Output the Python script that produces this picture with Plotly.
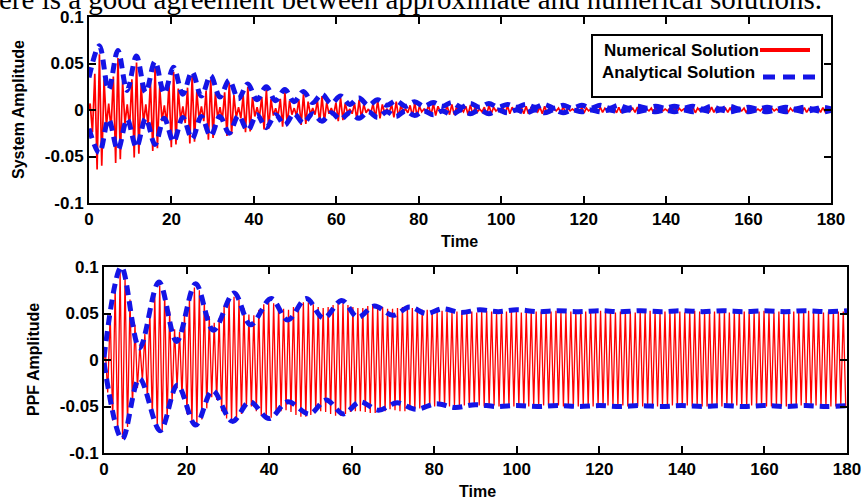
import numpy as np
import plotly.graph_objects as go

W, H = 862, 502

# ---------------- data ----------------
# Top panel, numerical solution: successive oscillation peaks (alternating sign)
top_num_t0 = 0.28          # time of first peak
top_num_dt = 0.5625        # time between successive peaks
top_numerical = [
    0.007, -0.024, 0.039, -0.064, 0.060, -0.060, 0.033, -0.017,
    0.007, -0.021, 0.036, -0.057, 0.056, -0.053, 0.031, -0.015,
    0.006, -0.019, 0.033, -0.051, 0.051, -0.047, 0.028, -0.014,
    0.006, -0.017, 0.030, -0.044, 0.046, -0.041, 0.025, -0.012,
    0.005, -0.015, 0.027, -0.040, 0.041, -0.037, 0.023, -0.011,
    0.004, -0.014, 0.024, -0.036, 0.037, -0.034, 0.020, -0.010,
    0.004, -0.012, 0.021, -0.032, 0.033, -0.030, 0.018, -0.009,
    0.003, -0.011, 0.019, -0.028, 0.029, -0.026, 0.016, -0.008,
    0.003, -0.009, 0.016, -0.024, 0.025, -0.023, 0.014, -0.007,
    0.003, -0.008, 0.014, -0.021, 0.022, -0.020, 0.012, -0.006,
    0.002, -0.007, 0.012, -0.018, 0.019, -0.017, 0.010, -0.005,
    0.002, -0.006, 0.011, -0.016, 0.017, -0.015, 0.009, -0.005,
    0.002, -0.005, 0.010, -0.014, 0.015, -0.013, 0.008, -0.004,
    0.002, -0.005, 0.008, -0.012, 0.013, -0.011, 0.007, -0.003,
    0.001, -0.004, 0.007, -0.010, 0.011, -0.009, 0.006, -0.003,
    0.001, -0.004, 0.007, -0.009, 0.010, -0.009, 0.006, -0.003,
    0.001, -0.003, 0.006, -0.008, 0.009, -0.008, 0.005, -0.002,
    0.001, -0.003, 0.005, -0.007, 0.008, -0.007, 0.004, -0.002,
    0.001, -0.002, 0.005, -0.006, 0.007, -0.006, 0.004, -0.002,
    0.001, -0.002, 0.004, -0.005, 0.006, -0.005, 0.003, -0.002,
    0.001, -0.002, 0.004, -0.005, 0.0055, -0.005, 0.003, -0.002,
    0.001, -0.002, 0.003, -0.005, 0.005, -0.004, 0.003, -0.001,
    0.001, -0.002, 0.003, -0.004, 0.0045, -0.004, 0.003, -0.001,
    0.001, -0.002, 0.003, -0.004, 0.004, -0.004, 0.002, -0.001,
    0.001, -0.002, 0.003, -0.004, 0.004, -0.003, 0.002, -0.001,
    0.001, -0.001, 0.002, -0.003, 0.0035, -0.003, 0.002, -0.001,
    0.001, -0.001, 0.002, -0.003, 0.003, -0.003, 0.002, -0.001,
    0.001, -0.001, 0.0025, -0.003, 0.003, -0.0025, 0.002, -0.001,
    0.001, -0.001, 0.002, -0.003, 0.003, -0.003, 0.002, -0.001,
    0.001, -0.001, 0.002, -0.0025, 0.003, -0.0025, 0.002, -0.001,
    0.001, -0.001, 0.002, -0.003, 0.003, -0.003, 0.0015, -0.001,
    0.001, -0.001, 0.002, -0.0025, 0.0025, -0.0025, 0.002, -0.001,
    0.001, -0.001, 0.002, -0.003, 0.003, -0.003, 0.002, -0.001,
    0.001, -0.001, 0.002, -0.0025, 0.003, -0.0025, 0.002, -0.001,
    0.001, -0.001, 0.002, -0.0025, 0.0025, -0.0025, 0.0015, -0.001,
    0.001, -0.001, 0.002, -0.003, 0.003, -0.003, 0.002, -0.001,
    0.001, -0.001, 0.002, -0.0025, 0.0025, -0.0025, 0.002, -0.001,
    0.001, -0.001, 0.002, -0.0025, 0.003, -0.0025, 0.002, -0.001,
    0.001, -0.001, 0.002, -0.0025, 0.0025, -0.0025, 0.0015, -0.001,
    0.001, -0.001, 0.002, -0.0025, 0.0025, -0.002, 0.0015, -0.001,
]

# Top panel, analytical solution: upper / lower envelope at peaks and troughs
top_env_t = [0.0, 2.5, 4.75, 7.0, 9.25, 11.5, 13.75, 16.0, 18.25, 20.5, 22.75,
             25.0, 27.25, 29.5, 31.75, 34.0, 36.25, 38.5, 40.75, 43.0, 45.25,
             47.5, 49.75, 52.0, 54.25, 56.5, 58.75, 61.0, 63.25, 65.5, 67.75,
             70.0, 72.25, 74.5, 76.75, 79.0, 81.25, 83.5, 85.75, 88.0, 90.25,
             92.5, 94.75, 97.0, 99.25, 101.5, 103.75, 106.0, 108.25, 110.5, 112.75,
             115.0, 117.25, 119.5, 121.75, 124.0, 126.25, 128.5, 130.75, 133.0, 135.25,
             137.5, 139.75, 142.0, 144.25, 146.5, 148.75, 151.0, 153.25, 155.5, 157.75,
             160.0, 162.25, 164.5, 166.75, 169.0, 171.25, 173.5, 175.75, 178.0, 180.25]
top_env_upper = [0.035, 0.069, 0.022, 0.064, 0.021, 0.058, 0.019, 0.052, 0.018, 0.046, 0.017,
                 0.041, 0.015, 0.037, 0.014, 0.032, 0.012, 0.028, 0.011, 0.025, 0.010,
                 0.022, 0.009, 0.020, 0.008, 0.017, 0.007, 0.015, 0.006, 0.013, 0.005,
                 0.011, 0.005, 0.010, 0.004, 0.009, 0.004, 0.008, 0.004, 0.008, 0.003,
                 0.007, 0.003, 0.007, 0.003, 0.006, 0.003, 0.006, 0.003, 0.006, 0.002,
                 0.005, 0.002, 0.005, 0.002, 0.005, 0.002, 0.005, 0.002, 0.004, 0.002,
                 0.004, 0.002, 0.004, 0.002, 0.004, 0.001, 0.004, 0.001, 0.004, 0.001,
                 0.003, 0.001, 0.003, 0.001, 0.003, 0.001, 0.003, 0.001, 0.003, 0.001]
top_env_lower = [-0.020, -0.046, -0.010, -0.043, -0.010, -0.040, -0.009, -0.037, -0.009, -0.034, -0.008,
                 -0.031, -0.007, -0.028, -0.007, -0.025, -0.006, -0.022, -0.005, -0.019, -0.005,
                 -0.016, -0.004, -0.014, -0.004, -0.012, -0.003, -0.010, -0.003, -0.009, -0.002,
                 -0.008, -0.002, -0.007, -0.001, -0.006, -0.001, -0.005, -0.001, -0.005, 0.000,
                 -0.004, 0.000, -0.004, 0.000, -0.003, 0.000, -0.003, 0.000, -0.003, 0.000,
                 -0.003, 0.000, -0.002, 0.000, -0.002, 0.000, -0.002, 0.000, -0.002, 0.000,
                 -0.002, 0.000, -0.002, 0.000, -0.002, 0.000, -0.002, 0.000, -0.002, 0.000,
                 -0.002, 0.000, -0.002, 0.000, -0.002, 0.000, -0.002, 0.000, -0.002, 0.000]

# Bottom panel, numerical solution: positive and negative peaks
bot_num_t0 = 0.3
bot_num_dt = 0.6
bot_pos_peaks = [
    0.012, 0.050, 0.078, 0.095, 0.088, 0.065, 0.038, 0.016, 0.028, 0.052,
    0.070, 0.080, 0.072, 0.052, 0.033, 0.030, 0.050, 0.066, 0.078, 0.075,
    0.064, 0.047, 0.040, 0.045, 0.058, 0.066, 0.068, 0.065, 0.056, 0.049,
    0.048, 0.054, 0.060, 0.062, 0.061, 0.058, 0.055, 0.054, 0.057, 0.060,
    0.062, 0.062, 0.060, 0.057, 0.056, 0.057, 0.059, 0.061, 0.061, 0.059,
    0.057, 0.056, 0.056, 0.058, 0.059, 0.058, 0.057, 0.055, 0.055, 0.056,
    0.057, 0.057, 0.056, 0.055, 0.054, 0.054, 0.053,
    0.052, 0.053, 0.052, 0.051, 0.052, 0.053, 0.052, 0.052, 0.051, 0.052,
    0.053, 0.052, 0.051, 0.052, 0.052, 0.053, 0.052, 0.051, 0.052, 0.053,
    0.052, 0.052, 0.051, 0.052, 0.053, 0.052, 0.051, 0.052, 0.052, 0.053,
    0.052, 0.051, 0.052, 0.053, 0.052, 0.052, 0.051, 0.052, 0.053, 0.052,
    0.051, 0.052, 0.052, 0.053, 0.052, 0.051, 0.052, 0.053, 0.052, 0.052,
    0.051, 0.052, 0.053, 0.052, 0.051, 0.052, 0.052, 0.053, 0.052, 0.051,
    0.052, 0.053, 0.052, 0.052, 0.051, 0.052, 0.053, 0.052, 0.051, 0.052,
    0.052, 0.053, 0.052, 0.051, 0.052, 0.053, 0.052, 0.052, 0.051, 0.052,
    0.053, 0.052, 0.052,
]
bot_neg_peaks = [
    -0.035, -0.065, -0.080, -0.085, -0.072, -0.050, -0.030, -0.022, -0.042, -0.062,
    -0.073, -0.076, -0.065, -0.045, -0.030, -0.040, -0.058, -0.068, -0.070, -0.064,
    -0.052, -0.040, -0.043, -0.055, -0.063, -0.066, -0.064, -0.058, -0.050, -0.050,
    -0.055, -0.060, -0.062, -0.062, -0.058, -0.055, -0.054, -0.056, -0.059, -0.061,
    -0.061, -0.059, -0.056, -0.055, -0.056, -0.058, -0.060, -0.060, -0.058, -0.056,
    -0.055, -0.055, -0.056, -0.057, -0.057, -0.056, -0.055, -0.053, -0.054, -0.055,
    -0.055, -0.054, -0.053, -0.052, -0.051, -0.051, -0.050,
    -0.049, -0.050, -0.050, -0.049, -0.050, -0.049, -0.050, -0.050, -0.049, -0.050,
    -0.050, -0.049, -0.050, -0.049, -0.050, -0.050, -0.049, -0.050, -0.050, -0.049,
    -0.050, -0.049, -0.050, -0.050, -0.049, -0.050, -0.049, -0.050, -0.050, -0.049,
    -0.050, -0.050, -0.049, -0.050, -0.049, -0.050, -0.050, -0.049, -0.050, -0.049,
    -0.050, -0.050, -0.049, -0.050, -0.050, -0.049, -0.050, -0.049, -0.050, -0.050,
    -0.049, -0.050, -0.049, -0.050, -0.050, -0.049, -0.050, -0.050, -0.049, -0.050,
    -0.049, -0.050, -0.050, -0.049, -0.050, -0.049, -0.050, -0.050, -0.049, -0.050,
    -0.050, -0.049, -0.050, -0.049, -0.050, -0.050, -0.049, -0.050, -0.049, -0.050,
    -0.050, -0.049, -0.050,
]

# Bottom panel, analytical solution envelopes
bot_upper_t = [0, 4.2, 8.6, 13.3, 17.6, 22.2, 26.5, 31.5, 35.5, 40.5, 44.5, 49.0, 53.2,
               57.6, 61.5, 65.5, 70.0, 74.0, 78.0, 82.0, 86.5, 91.0, 95.5, 100, 105,
               110, 115, 120, 125, 130, 135, 140, 145, 150, 155, 160, 165, 170, 175, 180]
bot_upper = [0.003, 0.100, 0.013, 0.084, 0.020, 0.082, 0.032, 0.072, 0.038, 0.066, 0.043,
             0.066, 0.045, 0.064, 0.046, 0.058, 0.048, 0.057, 0.050, 0.055, 0.051, 0.054,
             0.052, 0.054, 0.052, 0.053, 0.052, 0.053, 0.052, 0.053, 0.052, 0.053, 0.052,
             0.053, 0.052, 0.053, 0.052, 0.053, 0.052, 0.053]
bot_lower_t = [0, 4.4, 8.6, 13.6, 17.8, 22.2, 26.3, 31.1, 35.3, 40.0, 44.5, 49.8, 53.8,
               58.0, 62.0, 66.5, 71.0, 75.5, 80.5, 85.0, 90.0, 95.0, 100, 105, 110, 115,
               120, 125, 130, 135, 140, 145, 150, 155, 160, 165, 170, 175, 180]
bot_lower = [-0.003, -0.085, -0.020, -0.076, -0.027, -0.070, -0.033, -0.066, -0.045, -0.063,
             -0.045, -0.058, -0.043, -0.058, -0.045, -0.054, -0.046, -0.053, -0.047, -0.051,
             -0.048, -0.050, -0.049, -0.050, -0.049, -0.050, -0.049, -0.050, -0.049, -0.050,
             -0.049, -0.050, -0.049, -0.050, -0.049, -0.050, -0.049, -0.050, -0.049]

x_ticks = [0, 20, 40, 60, 80, 100, 120, 140, 160, 180]
y_ticks = [-0.1, -0.05, 0, 0.05, 0.1]
y_tick_text = ["-0.1", "-0.05", "0", "0.05", "0.1"]

caption = "ere is a good agreement between approximate and numerical solutions."
legend_labels = ["Numerical Solution", "Analytical Solution"]

# ---------------- build series ----------------
top_t = [0.0] + list(np.round(top_num_t0 + top_num_dt * np.arange(len(top_numerical)), 4))
top_y = [0.0] + top_numerical

bot_vals = [0.0]
for p, n in zip(bot_pos_peaks, bot_neg_peaks):
    bot_vals += [p, n]
bot_t = [0.0] + list(np.round(bot_num_t0 + bot_num_dt * np.arange(len(bot_vals) - 1), 4))

RED = "#ff0000"
BLUE = "#1414e6"
DASH = "10px,6px"

fig = go.Figure()
fig.add_trace(go.Scatter(x=top_t, y=top_y, mode="lines", line=dict(color=RED, width=1.7),
                         xaxis="x", yaxis="y", showlegend=False))
for ys in (top_env_upper, top_env_lower):
    fig.add_trace(go.Scatter(x=top_env_t, y=ys, mode="lines", line_shape="spline",
                             line=dict(color=BLUE, width=5, dash=DASH),
                             xaxis="x", yaxis="y", showlegend=False))
fig.add_trace(go.Scatter(x=bot_t, y=bot_vals, mode="lines", line=dict(color=RED, width=1.3),
                         xaxis="x2", yaxis="y2", showlegend=False))
fig.add_trace(go.Scatter(x=bot_upper_t, y=bot_upper, mode="lines", line_shape="spline",
                         line=dict(color=BLUE, width=5, dash=DASH),
                         xaxis="x2", yaxis="y2", showlegend=False))
fig.add_trace(go.Scatter(x=bot_lower_t, y=bot_lower, mode="lines", line_shape="spline",
                         line=dict(color=BLUE, width=5, dash=DASH),
                         xaxis="x2", yaxis="y2", showlegend=False))

FONT = "Liberation Sans, Arial, sans-serif"
tickfont = dict(family=FONT, size=17, color="black", weight="bold")
common = dict(showline=True, linecolor="black", linewidth=2, mirror="ticks",
              ticks="inside", ticklen=7, tickwidth=1.5, tickcolor="black",
              showgrid=False, zeroline=False, tickfont=tickfont, automargin=False)

def fx(p):
    return p / W

def fy(p):
    return 1 - p / H

fig.update_layout(
    width=W, height=H, autosize=False,
    margin=dict(l=0, r=0, t=0, b=0),
    paper_bgcolor="white", plot_bgcolor="white",
    xaxis=dict(domain=[fx(89), fx(831)], anchor="y", range=[0, 180],
               tickvals=x_ticks, **common),
    yaxis=dict(domain=[fy(203), fy(17)], anchor="x", range=[-0.1, 0.1],
               tickvals=y_ticks, ticktext=y_tick_text, **common),
    xaxis2=dict(domain=[fx(104), fx(847)], anchor="y2", range=[0, 180],
                tickvals=x_ticks, **common),
    yaxis2=dict(domain=[fy(453), fy(267)], anchor="x2", range=[-0.1, 0.1],
                tickvals=y_ticks, ticktext=y_tick_text, **common),
)

titlefont = dict(family=FONT, size=16, color="black", weight="bold")
legfont = dict(family=FONT, size=17, color="black", weight="bold")
ann = [
    dict(text="Time", x=fx(460), y=fy(241), font=titlefont),
    dict(text="Time", x=fx(477), y=fy(491), font=titlefont),
    dict(text="System Amplitude", x=fx(18), y=fy(110), textangle=-90, font=titlefont),
    dict(text="PPF Amplitude", x=fx(33), y=fy(360), textangle=-90, font=titlefont),
    dict(text=legend_labels[0], x=fx(602), y=fy(50), xanchor="left", font=legfont),
    dict(text=legend_labels[1], x=fx(600), y=fy(73), xanchor="left", font=legfont),
    dict(text=caption, x=fx(-3), y=fy(-1), xanchor="left", yanchor="middle",
         font=dict(family="Liberation Serif, Times New Roman, serif", size=29, color="black")),
]
for a in ann:
    a.setdefault("xanchor", "center")
    a.setdefault("yanchor", "middle")
    a.update(xref="paper", yref="paper", showarrow=False)
fig.update_layout(annotations=ann)

fig.update_layout(shapes=[
    dict(type="rect", xref="paper", yref="paper", x0=fx(592), x1=fx(822), y0=fy(97), y1=fy(35),
         line=dict(color="black", width=2), fillcolor="white", layer="above"),
    dict(type="line", xref="paper", yref="paper", x0=fx(760), x1=fx(810), y0=fy(50), y1=fy(50),
         line=dict(color=RED, width=4), layer="above"),
    dict(type="line", xref="paper", yref="paper", x0=fx(763), x1=fx(815), y0=fy(77), y1=fy(77),
         line=dict(color=BLUE, width=5, dash="12px,8px"), layer="above"),
])

# remove the page's default 8px body margin so the figure sits at the window's corner
fig.write_html("out.html", config={"displayModeBar": False},
               post_script="document.body.style.margin='0';document.body.style.overflow='hidden';")
